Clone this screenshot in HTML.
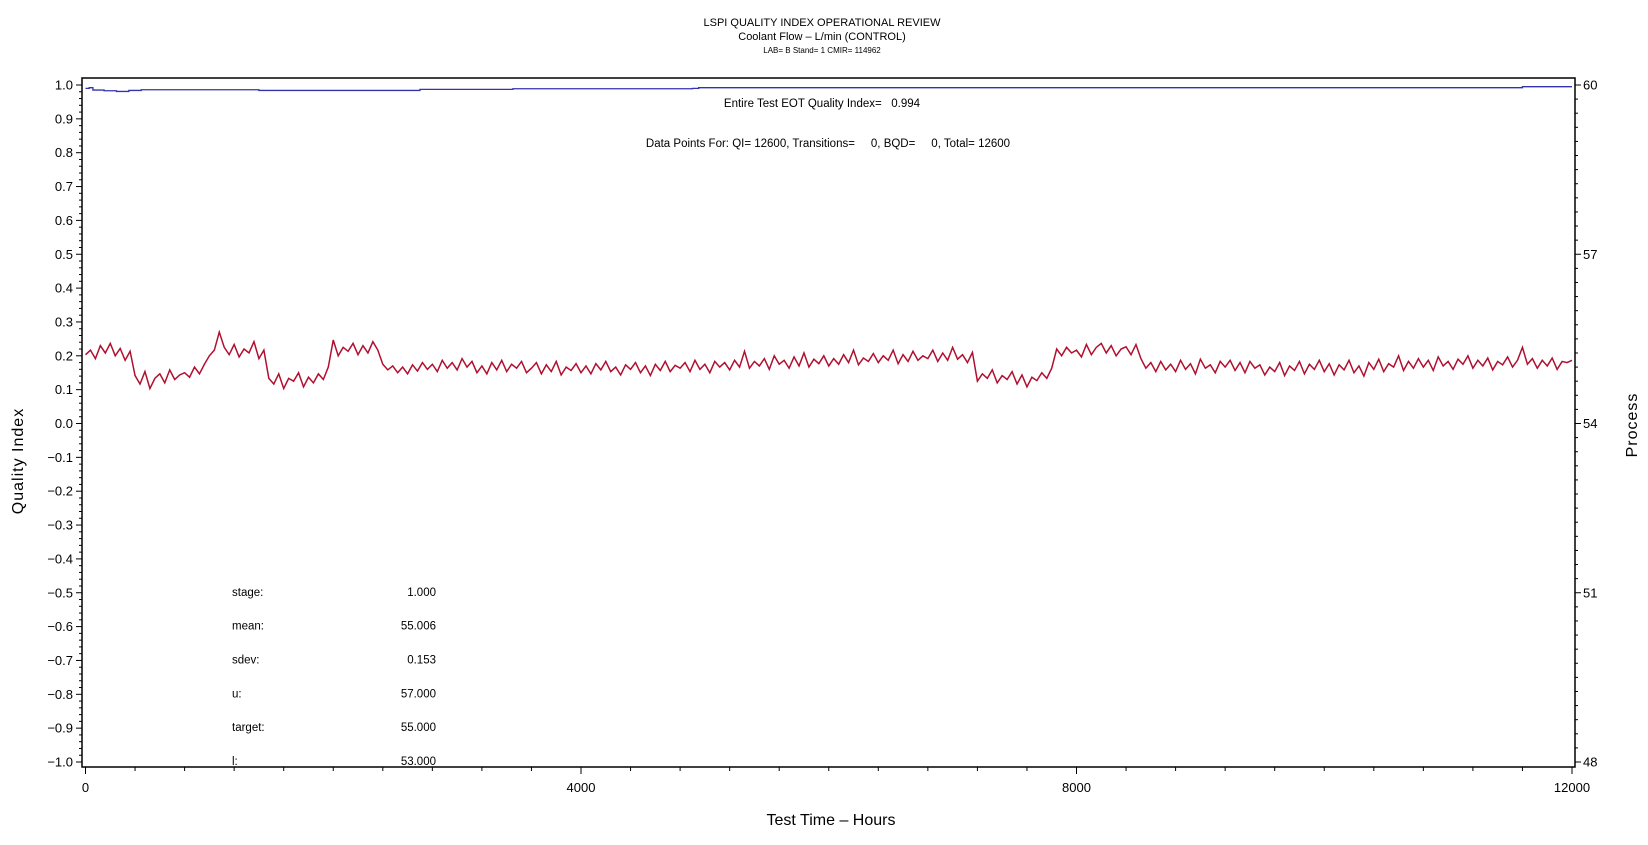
<!DOCTYPE html>
<html><head><meta charset="utf-8"><style>
html,body{margin:0;padding:0;background:#fff;}
svg{display:block;font-family:"Liberation Sans",sans-serif;}
</style></head><body>
<svg id="chart" width="1648" height="845" viewBox="0 0 1648 845" xmlns="http://www.w3.org/2000/svg">
<g id="titles" text-anchor="middle" fill="#000">
<text x="822" y="26" font-size="11">LSPI QUALITY INDEX OPERATIONAL REVIEW</text>
<text x="822" y="40" font-size="11">Coolant Flow – L/min (CONTROL)</text>
<text x="822" y="53" font-size="8">LAB= B Stand= 1 CMIR= 114962</text>
<text x="822" y="107" font-size="11.5" xml:space="preserve">Entire Test EOT Quality Index=   0.994</text>
<text x="828" y="147" font-size="11.5" xml:space="preserve">Data Points For: QI= 12600, Transitions=     0, BQD=     0, Total= 12600</text>
</g>
<rect x="82" y="78" width="1493" height="689" fill="none" stroke="#000" stroke-width="1.5"/>
<g id="axes"></g>
<g id="stats" font-size="11.5" fill="#000"></g>
<path id="blue" fill="none" stroke="#3333aa" stroke-width="1.3"/>
<path id="red" fill="none" stroke="#b01030" stroke-width="1.5"/>
<text x="0" y="0" transform="translate(23,461) rotate(-90)" text-anchor="middle" font-size="16" letter-spacing="1">Quality Index</text>
<text x="0" y="0" transform="translate(1637,425) rotate(-90)" text-anchor="middle" font-size="16" letter-spacing="1">Process</text>
<text x="831" y="825" text-anchor="middle" font-size="16">Test Time – Hours</text>
</svg>
<script>
const xTicks=[0,4000,8000,12000];
const yTicks=[1.0,0.9,0.8,0.7,0.6,0.5,0.4,0.3,0.2,0.1,0.0,-0.1,-0.2,-0.3,-0.4,-0.5,-0.6,-0.7,-0.8,-0.9,-1.0];
const y2Ticks=[60,57,54,51,48];
const statLabels=["stage:","mean:","sdev:","u:","target:","l:"];
const statValues=["1.000","55.006","0.153","57.000","55.000","53.000"];
const blueHours=[0,30,60,150,250,350,450,1350,1400,2650,2700,3400,3450,4900,4950,11550,11600,12000];
const blueQI=[0.990,0.992,0.985,0.983,0.981,0.984,0.986,0.986,0.984,0.984,0.987,0.987,0.989,0.990,0.992,0.992,0.995,0.995];
const redStep=40;
const redProcess=[
55.22,55.30,55.15,55.38,55.25,55.42,55.20,55.33,55.12,55.28,
54.85,54.70,54.92,54.62,54.80,54.88,54.72,54.95,54.78,54.86,
54.90,54.82,55.00,54.88,55.05,55.20,55.30,55.62,55.35,55.22,
55.40,55.18,55.32,55.25,55.45,55.15,55.30,54.80,54.70,54.88,
54.62,54.80,54.75,54.90,54.65,54.82,54.72,54.88,54.78,55.00,
55.48,55.20,55.35,55.28,55.42,55.22,55.38,55.25,55.45,55.30,
55.05,54.95,55.02,54.90,55.00,54.88,55.04,54.93,55.08,54.96,
55.05,54.92,55.12,54.98,55.08,54.95,55.15,55.00,55.10,54.90,
55.02,54.88,55.08,54.95,55.12,54.92,55.05,54.98,55.10,54.90,
54.98,55.08,54.88,55.04,54.92,55.10,54.86,55.00,54.94,55.06,
54.90,55.02,54.88,55.06,54.95,55.10,54.92,55.00,54.86,55.04,
54.96,55.08,54.90,55.02,54.85,55.05,54.94,55.10,54.92,55.03,
54.98,55.08,54.92,55.12,54.96,55.05,54.90,55.10,55.00,55.08,
54.95,55.12,55.00,55.28,54.98,55.10,55.02,55.15,54.96,55.20,
55.05,55.12,54.98,55.18,55.02,55.25,55.00,55.14,55.06,55.20,
55.02,55.15,55.05,55.22,55.08,55.30,55.04,55.16,55.10,55.24,
55.08,55.20,55.12,55.30,55.06,55.22,55.10,55.28,55.12,55.20,
55.15,55.30,55.10,55.25,55.12,55.35,55.14,55.22,55.08,55.26,
54.75,54.88,54.80,54.95,54.72,54.85,54.78,54.92,54.70,54.86,
54.65,54.82,54.76,54.90,54.80,54.98,55.32,55.20,55.35,55.25,
55.30,55.18,55.40,55.22,55.35,55.42,55.25,55.38,55.20,55.32,
55.36,55.22,55.40,55.15,54.98,55.08,54.92,55.10,54.95,55.05,
54.92,55.12,54.96,55.06,54.88,55.14,54.98,55.04,54.90,55.10,
55.00,55.12,54.94,55.08,54.90,55.10,54.98,55.04,54.86,55.00,
54.92,55.08,54.85,55.02,54.94,55.10,54.88,55.05,54.96,55.12,
54.92,55.06,54.86,55.04,54.95,55.12,54.90,55.02,54.84,55.08,
54.96,55.14,54.92,55.06,55.00,55.20,54.94,55.10,54.98,55.15,
55.00,55.12,54.94,55.18,55.02,55.10,54.96,55.14,55.05,55.20,
54.98,55.12,55.02,55.16,54.95,55.10,55.04,55.18,55.00,55.12,
55.35,55.05,55.15,54.98,55.12,55.02,55.16,54.96,55.10,55.08,55.12];

const NS="http://www.w3.org/2000/svg";
const X0=85.5,X1=1572,Y0=85,Y1=762;
function xs(h){return X0+h/12000*(X1-X0);}
function yq(q){return Y0+(1-q)/2*(Y1-Y0);}
function yp(p){return Y0+(60-p)/12*(Y1-Y0);}
const axes=document.getElementById('axes');
function mk(tag,attrs,parent){const e=document.createElementNS(NS,tag);for(const k in attrs)e.setAttribute(k,attrs[k]);parent.appendChild(e);return e;}
for(let i=0;i<=100;i++){const q=1-i*0.02;const y=yq(q);
const t=mk('line',{x1:82-(i%5===0?6:3),x2:82,y1:y,y2:y,stroke:'#000','stroke-width':1},axes);

}
yTicks.forEach(q=>{const t=mk('text',{x:73,y:yq(q)+4.5,'text-anchor':'end','font-size':13},axes);


t.textContent=(q<0?'−':'')+Math.abs(q).toFixed(1);});
for(let i=0;i<=48;i++){const p=60-i*0.25;const y=yp(p);
const t=mk('line',{x1:1575,x2:1575+(i%12===0?6:3),y1:y,y2:y,stroke:'#000','stroke-width':1},axes);

}
y2Ticks.forEach(p=>{const t=mk('text',{x:1583,y:yp(p)+4.5,'font-size':13},axes);


t.textContent=p;});
for(let h=0;h<=12000;h+=400){const x=xs(h);
const t=mk('line',{x1:x,x2:x,y1:767,y2:767+(h%4000===0?7:4),stroke:'#000','stroke-width':1},axes);

}
xTicks.forEach(h=>{const t=mk('text',{x:xs(h),y:792,'text-anchor':'middle','font-size':13},axes);


t.textContent=h;});
const st=document.getElementById('stats');
statLabels.forEach((l,i)=>{const y=yq(-0.5-i*0.1)+3;
const a=mk('text',{x:232,y:y},st);


a.textContent=l;
const b=mk('text',{x:436,y:y,'text-anchor':'end'},st);


b.textContent=statValues[i];});
let d='';blueHours.forEach((h,i)=>{const x=xs(h),y=yq(blueQI[i]);
d+= i===0?`M${x},${y}`:`H${x}V${y}`;});
document.getElementById('blue').setAttribute('d',d);
let r='';redProcess.forEach((p,i)=>{r+=(i?'L':'M')+xs(Math.min(i*redStep,12000))+','+yp(p);});
document.getElementById('red').setAttribute('d',r);
</script>
</body></html>
